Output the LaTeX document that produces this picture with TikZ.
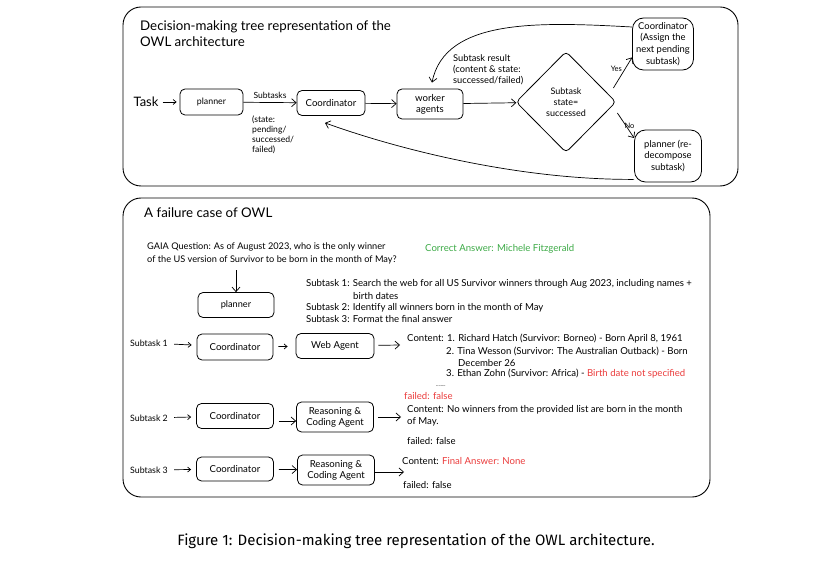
\documentclass[tikz,border=0pt]{standalone}
\usepackage{fontspec}
\setmainfont{Lato}
\newfontfamily\capfont{Fira Sans}
\usetikzlibrary{arrows.meta,shapes.geometric,calc}
\definecolor{okgreen}{RGB}{60,170,70}
\definecolor{errred}{RGB}{235,60,60}
\begin{document}
\begin{tikzpicture}[x=1pt,y=-1pt,
  box/.style={draw, rounded corners=5pt, line width=0.8pt, align=center, inner sep=1pt, font=\fontsize{9.6}{11}\selectfont},
  bigbox/.style={box, rounded corners=11pt, font=\fontsize{9.4}{11.6}\selectfont},
  arr/.style={-{Straight Barb[length=4.5pt,width=8pt]}, line width=0.7pt},
  sarr/.style={-{Straight Barb[length=3pt,width=5pt]}, line width=0.7pt},
  txt/.style={anchor=west, inner sep=0pt, font=\fontsize{9.6}{12.5}\selectfont, align=left},
  lbl/.style={anchor=west, inner sep=0pt, font=\fontsize{8.8}{11}\selectfont},
  small/.style={anchor=west, inner sep=0pt, font=\fontsize{8.6}{9.8}\selectfont, align=left},
  frame/.style={draw, line width=0.9pt, rounded corners=18pt},
  head/.style={anchor=west, inner sep=0pt, font=\fontsize{13.3}{16}\selectfont, align=left}]
\useasboundingbox (0,0) rectangle (832,577);
\fill[white] (0,0) rectangle (832,577);

% ---------- top frame ----------
\draw[frame] (123,7) rectangle (738,186);
\node[head, anchor=north west] (title1) at (140,21) {Decision-making tree representation of the\\OWL architecture};

\node[inner sep=0pt, font=\fontsize{13}{15}\selectfont] (task) at (146,102) {Task};
\node[box, minimum width=63, minimum height=26, font=\fontsize{8.8}{10}\selectfont] (planner) at (211.5,102) {planner};
\node[box, minimum width=68, minimum height=25] (coord) at (331,103) {Coordinator};
\node[box, minimum width=66, minimum height=30] (worker) at (430,104) {worker\\agents};
\node[diamond, draw, line width=0.8pt, rounded corners=4pt, minimum width=100, minimum height=101, inner sep=0pt, align=center, font=\fontsize{9}{11}\selectfont] (dec) at (566,102) {Subtask\\state=\\successed};
\node[bigbox, minimum width=61, minimum height=52] (coordA) at (663,44) {Coordinator\\(Assign the\\next pending\\subtask)};
\node[bigbox, minimum width=67, minimum height=52] (plannerR) at (668,156) {planner (re-\\decompose\\subtask)};

\draw[sarr, shorten <=4pt, shorten >=3pt] (task) -- (planner);
\draw[arr] (planner) -- (coord) node[midway, above=3pt, font=\fontsize{8.5}{9}\selectfont, inner sep=1pt] (lblsub) {Subtasks};
\node[small, anchor=north west] (lblstate) at (252,116) {(state:\\pending/\\successed/\\failed)};
\draw[arr] (coord) -- (worker);
\draw[arr] (worker) -- (dec);
\node[small, anchor=north west, font=\fontsize{9.3}{11}\selectfont] (lblres) at (453,54) {Subtask result\\(content \& state:\\successed/failed)};

\draw[arr] ($(dec.east)+(-3,-14)$) -- ($(coordA.south west)+(0,-13)$) node[pos=0.5, above left=0pt, font=\fontsize{7.5}{8}\selectfont, inner sep=0.5pt] (lblyes) {Yes};
\draw[arr] ($(dec.east)+(1,11)$) -- ($(plannerR.west)+(0,-18)$) node[pos=0.5, right=-2pt, font=\fontsize{7.5}{8}\selectfont, inner sep=0.5pt] (lblno) {No};

\draw[arr] ($(coordA.west)+(0,-17)$) .. controls (540,22) and (445,18) .. ($(worker.north)+(2,-6)$);
\draw[arr] ($(plannerR.south west)+(0,-3)$) .. controls (520,180) and (400,150) .. ($(coord.south)+(-6,7)$);

% ---------- bottom frame ----------
\draw[frame] (123,198) rectangle (710,497);
\node[head] (title2) at (144,213) {A failure case of OWL};

\node[txt, anchor=north west, font=\fontsize{9.2}{12.5}\selectfont] (gaia) at (147,243) {GAIA Question: As of August 2023, who is the only winner\\of the US version of Survivor to be born in the month of May?};
\node[txt, text=okgreen] (correct) at (425,249) {Correct Answer: Michele Fitzgerald};

\node[box, minimum width=76, minimum height=25, font=\fontsize{9.2}{10}\selectfont] (planner2) at (236,305) {planner};
\draw[arr, shorten <=6pt] (planner2.north |- gaia.south) -- (planner2.north);

\node[txt] (st1) at (306,284) {Subtask 1: Search the web for all US Survivor winners through Aug 2023, including names +};
\node[txt] (st1b) at (353,296) {birth dates};
\node[txt] (st2) at (306,308) {Subtask 2: Identify all winners born in the month of May};
\node[txt] (st3) at (306,319) {Subtask 3: Format the final answer};

% row 1
\node[lbl] (s1) at (130,343) {Subtask 1};
\node[box, minimum width=76, minimum height=26] (c1) at (235,347) {Coordinator};
\node[box, minimum width=78, minimum height=25] (w1) at (335,346) {Web Agent};
\draw[sarr, shorten <=6pt, shorten >=5pt] (s1) -- (c1);
\draw[sarr, shorten <=5pt, shorten >=8pt] (c1) -- (w1);
\coordinate (r1) at (400,345);
\draw[arr, shorten <=4pt] (w1) -- (r1);
\node[txt] (r1a) at (407,339) {Content: 1. Richard Hatch (Survivor: Borneo) - Born April 8, 1961};
\node[txt] (r1b) at (446,351) {2. Tina Wesson (Survivor: The Australian Outback) - Born};
\node[txt] (r1c) at (458,363) {December 26};
\node[txt] (r1d) at (446,374) {3. Ethan Zohn (Survivor: Africa) - \textcolor{errred}{Birth date not specified}};
\node[txt, font=\fontsize{5}{6}\selectfont] (r1e) at (436,386) {........};
\node[txt, text=errred] (r1f) at (404,396) {failed: false};

% row 2
\node[lbl] (s2) at (130,418) {Subtask 2};
\node[box, minimum width=77, minimum height=25] (c2) at (235,416) {Coordinator};
\node[box, minimum width=77, minimum height=30] (w2) at (335,417) {Reasoning \&\\Coding Agent};
\draw[sarr, shorten <=6pt, shorten >=5pt] (s2) -- (c2);
\draw[arr, shorten <=5pt] (c2.east |- 0,421) -- (w2.west |- 0,421);
\coordinate (r2) at (401,417);
\draw[arr, shorten <=4pt] (w2.east |- r2) -- (r2);
\node[txt, anchor=north west] (r2a) at (407,405) {Content: No winners from the provided list are born in the month\\of May.};
\node[txt] (r2b) at (407,441) {failed: false};

% row 3
\node[lbl] (s3) at (130,470) {Subtask 3};
\node[box, minimum width=77, minimum height=24] (c3) at (235,469) {Coordinator};
\node[box, minimum width=77, minimum height=30] (w3) at (336,470) {Reasoning \&\\Coding Agent};
\draw[sarr, shorten <=6pt, shorten >=5pt] (s3) -- (c3);
\draw[arr, shorten <=5pt] (c3) -- (w3);
\coordinate (r3) at (404,472);
\draw[arr] (w3.east |- r3) -- (r3);
\node[txt] (r3a) at (402,461) {Content: \textcolor{errred}{Final Answer: None}};
\node[txt] (r3b) at (403,485) {failed: false};

% caption
\node[font=\capfont\fontsize{15}{18}\selectfont, inner sep=0pt] (cap) at (416,541) {Figure 1: Decision-making tree representation of the OWL architecture.};
\end{tikzpicture}
\end{document}
